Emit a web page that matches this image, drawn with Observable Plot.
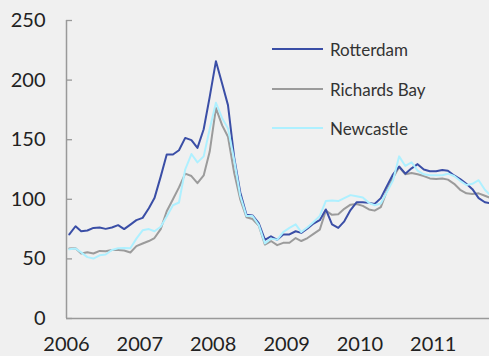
<!DOCTYPE html>
<html>
<head>
<meta charset="utf-8">
<script src="https://cdn.jsdelivr.net/npm/d3@7"></script>
<script src="https://cdn.jsdelivr.net/npm/@observablehq/plot@0.6"></script>
<style>
  html, body { margin: 0; padding: 0; background: #f0f0f0; }
  #wrap { position: relative; width: 489px; height: 356px; overflow: hidden; }
  .legend { position: absolute; left: 272px; top: 0; font-family: Lato, "Open Sans", sans-serif; font-size: 17px; color: #333; }
  .legend .row { position: absolute; left: 0; display: flex; align-items: center; white-space: nowrap; }
  .legend .sw { width: 51px; height: 0; border-top-width: 2px; border-top-style: solid; margin-right: 7px; }
</style>
</head>
<body>
<div id="wrap"></div>
<script>
const seriesNames = ["Rotterdam", "Richards Bay", "Newcastle"];
const seriesColors = ["#3a4ea6", "#9b9b9b", "#aef0ff"];
const yTicks = [0, 50, 100, 150, 200, 250];
const yearTicks = [2006, 2007, 2008, 2009, 2010, 2011];

const rotterdam = [70.5,77.4,73.2,73.8,76,76.3,75.2,76.3,78.3,75,78.8,82.5,
  84.4,92.5,101,119,137.6,137.6,141.2,151.5,149.6,143.1,158.8,185.9,
  215.9,197,179,135,106,87,86.5,80,66,69,66,70.5,
  70.5,73.2,71.8,75.5,79.7,82.5,91.5,79,76,81.5,91,97.5,
  97.5,97,96,101,111,121,127.5,121.5,126,129.5,125,123.5,
  123.5,124.5,124,120,117,113,108.5,101,97.5,96.5];
const richardsBay = [58.7,59,54.5,55.5,54.5,56.7,56.5,57.5,57.5,57,55.4,60.7,
  62.9,65,67.5,75,90,100,110,121.5,119.5,113.5,120,140,
  176.5,162,152.5,122,100,85,83.5,78,62,65,61.5,63.5,
  63.5,67.5,65,67.5,71,74.5,90.5,87,87.5,92,95.5,96,
  94.5,91.5,90.5,93.5,107,118,127,121,122,121,119.5,117.5,
  117,117.5,116.5,113,108,105,104.5,105,103,101];
const newcastle = [58,58.7,55.5,51.5,50.3,53,53.7,57.5,59,59.2,59,67,
  74,75,73.2,77,85.5,95,97.3,125,138,131,136,159,
  181,168,159.5,133,103,86,86,78.5,63,67,66,72.5,
  76,79,72.5,76.5,81,86,98.5,99,98.5,101,103.5,102.5,
  101.5,97,95,96.5,106,116,136,128,131,124,121,120.2,
  120.2,120.2,121.5,119.5,115.5,112,113,116,108,103];

const months = d3.range(rotterdam.length).map(i => new Date(Date.UTC(2006, i, 15)));
const allSeries = [rotterdam, richardsBay, newcastle];
const data = allSeries.flatMap((vals, s) => vals.map((v, i) => ({date: months[i], value: v, series: seriesNames[s]})));

const x0 = new Date(Date.UTC(2006, 0, 1));
const x1 = new Date(Date.UTC(2011, 9, 8));
const drawOrder = ["Richards Bay", "Rotterdam", "Newcastle"];

const chart = Plot.plot({
  width: 489,
  height: 356,
  marginLeft: 66,
  marginRight: 0,
  marginTop: 20,
  marginBottom: 38,
  style: {background: "transparent", fontFamily: "Lato, 'Open Sans', sans-serif", fontSize: "20px", color: "#222"},
  x: {type: "utc", domain: [x0, x1], label: null},
  y: {domain: [0, 250], label: null},
  marks: [
    Plot.axisY({ticks: yTicks, tickSize: 0, tickPadding: 21, tickFormat: d => String(d), fill: "#222", fontSize: 20, label: null}),
    Plot.tickY(yTicks, {y: d => d, stroke: "#999", strokeWidth: 1.3, insetRight: 417}),
    Plot.axisX({ticks: yearTicks.map(y => new Date(Date.UTC(y, 0, 1))), tickSize: 0, tickPadding: 18, tickFormat: d => String(d.getUTCFullYear()), fill: "#222", fontSize: 20, label: null}),
    Plot.ruleX([x0], {y1: 0, y2: 250, stroke: "#999", strokeWidth: 1.5}),
    Plot.ruleY([0], {stroke: "#999", strokeWidth: 1.5}),
    ...drawOrder.map(name => Plot.lineY(data.filter(d => d.series === name), {
      x: "date", y: "value",
      stroke: seriesColors[seriesNames.indexOf(name)],
      strokeWidth: 2, clip: true
    }))
  ]
});
const wrap = document.getElementById("wrap");
wrap.appendChild(chart);

const legend = document.createElement("div");
legend.className = "legend";
const rowTops = [49, 89, 128];
seriesNames.forEach((name, i) => {
  const row = document.createElement("div");
  row.className = "row";
  row.style.top = (rowTops[i] - 11) + "px";
  row.style.height = "22px";
  const sw = document.createElement("span");
  sw.className = "sw";
  sw.style.borderTopColor = seriesColors[i];
  const t = document.createElement("span");
  t.textContent = name;
  row.appendChild(sw);
  row.appendChild(t);
  legend.appendChild(row);
});
wrap.appendChild(legend);
</script>
</body>
</html>
